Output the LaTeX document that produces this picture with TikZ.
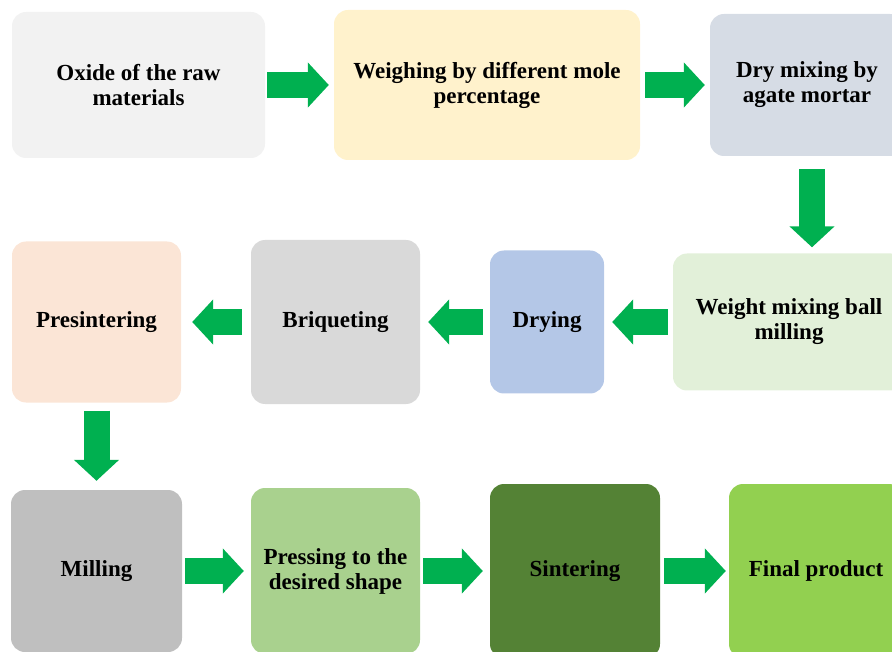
\documentclass[tikz,border=0pt]{standalone}
\usepackage{fontspec}
\setmainfont{Liberation Serif}
\usetikzlibrary{arrows.meta}
\definecolor{flowgreen}{HTML}{00B050}
\definecolor{oxidegray}{HTML}{F2F2F2}
\definecolor{weighyellow}{HTML}{FFF2CC}
\definecolor{drygray}{HTML}{D6DCE5}
\definecolor{ballgreen}{HTML}{E2F0D9}
\definecolor{dryingblue}{HTML}{B4C7E7}
\definecolor{briqgray}{HTML}{D9D9D9}
\definecolor{presinterpink}{HTML}{FBE5D6}
\definecolor{millgray}{HTML}{BFBFBF}
\definecolor{pressgreen}{HTML}{A9D18E}
\definecolor{sintergreen}{HTML}{548235}
\definecolor{finalgreen}{HTML}{92D050}
\begin{document}
\begin{tikzpicture}[x=1pt, y=-1pt,
  stage/.style={rounded corners=14pt, align=center, inner sep=4pt, font=\fontsize{23}{25}\selectfont\bfseries},
  flow/.style={draw=flowgreen, line width=26pt, -{Triangle[length=21pt, width=44pt]}}
]
\clip (0,0) rectangle (892,652);
\node[stage, fill=oxidegray, minimum width=253pt, minimum height=146pt] (oxide) at (138.5,85) {Oxide of the raw\\materials};
\node[stage, fill=weighyellow, minimum width=306pt, minimum height=150pt] (weigh) at (487,85) {Weighing by different mole\\percentage};
\node[stage, fill=drygray, minimum width=194pt, minimum height=142pt] (dry) at (807,85) {Dry mixing by\\agate mortar};
\node[stage, fill=ballgreen, minimum width=232pt, minimum height=137pt] (ballmill) at (789,322) {Weight mixing ball\\milling};
\node[stage, fill=dryingblue, minimum width=114pt, minimum height=143pt] (drying) at (547,322) {Drying};
\node[stage, fill=briqgray, minimum width=169pt, minimum height=164pt] (briq) at (335.5,322) {Briqueting};
\node[stage, fill=presinterpink, minimum width=169pt, minimum height=161pt] (presinter) at (96.5,322) {Presintering};
\node[stage, fill=millgray, minimum width=171pt, minimum height=162pt] (milling) at (96.5,571) {Milling};
\node[stage, fill=pressgreen, minimum width=169pt, minimum height=166pt] (press) at (335.5,571) {Pressing to the\\desired shape};
\node[stage, fill=sintergreen, minimum width=170pt, minimum height=174pt] (sinter) at (575,571) {Sintering};
\node[stage, fill=finalgreen, minimum width=174pt, minimum height=174pt] (final) at (816,571) {Final product};
\draw[flow, shorten <=2pt, shorten >=5pt] (oxide) -- (weigh);
\draw[flow, shorten <=5pt, shorten >=5pt] (weigh) -- (dry);
\draw[flow, shorten <=13pt, shorten >=6pt] ([xshift=5pt]dry.south) -- ([xshift=5pt]dry.south |- ballmill.north);
\draw[flow, shorten <=5pt, shorten >=8pt] (ballmill) -- (drying);
\draw[flow, shorten <=7pt, shorten >=8pt] (drying) -- (briq);
\draw[flow, shorten <=9pt, shorten >=11pt] (briq) -- (presinter);
\draw[flow, shorten <=8pt, shorten >=9pt] (presinter) -- (milling);
\draw[flow, shorten <=3pt, shorten >=7pt] (milling) -- (press);
\draw[flow, shorten <=3pt, shorten >=7pt] (press) -- (sinter);
\draw[flow, shorten <=4pt, shorten >=3pt] (sinter) -- (final);
\end{tikzpicture}
\end{document}
